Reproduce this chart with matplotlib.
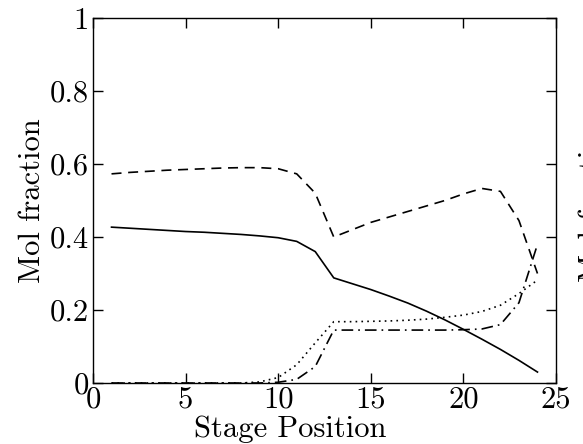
import matplotlib
matplotlib.use("Agg")
import matplotlib.pyplot as plt

plt.rcParams['font.family'] = 'serif'
plt.rcParams['font.serif'] = ['cmr10', 'DejaVu Serif']
plt.rcParams['mathtext.fontset'] = 'cm'
plt.rcParams['axes.formatter.use_mathtext'] = True

stages = list(range(1, 25))
solid = [0.427, 0.424, 0.421, 0.418, 0.415, 0.413, 0.410, 0.407, 0.403, 0.398,
         0.388, 0.360, 0.288, 0.272, 0.256, 0.238, 0.219, 0.197, 0.173, 0.147,
         0.120, 0.092, 0.062, 0.030]
dashed = [0.573, 0.577, 0.580, 0.583, 0.585, 0.587, 0.589, 0.590, 0.590, 0.587,
          0.573, 0.520, 0.400, 0.420, 0.440, 0.455, 0.470, 0.485, 0.500, 0.518,
          0.533, 0.525, 0.445, 0.300]
dotted = [0.0, 0.0, 0.0, 0.0, 0.0, 0.0, 0.0, 0.0, 0.003, 0.015,
          0.050, 0.110, 0.168, 0.168, 0.169, 0.170, 0.172, 0.175, 0.180, 0.186,
          0.196, 0.213, 0.245, 0.282]
dashdot = [0.0, 0.0, 0.0, 0.0, 0.0, 0.0, 0.0, 0.0, 0.0, 0.002,
           0.010, 0.045, 0.145, 0.145, 0.145, 0.145, 0.145, 0.145, 0.145, 0.146,
           0.148, 0.160, 0.220, 0.380]

xticks = [0, 5, 10, 15, 20, 25]
yticks = [0, 0.2, 0.4, 0.6, 0.8, 1.0]
ytick_labels = ['0', '0.2', '0.4', '0.6', '0.8', '1']

fig = plt.figure(figsize=(5.83, 4.44), dpi=100)
ax = fig.add_axes([93/583, 1-383/444, (556-93)/583, (383-18)/444])

lw = 1.2
ax.plot(stages, solid, color='black', lw=lw, linestyle='-')
ax.plot(stages, dashed, color='black', lw=lw, linestyle=(0, (6, 4)))
ax.plot(stages, dotted, color='black', lw=lw, linestyle=(0, (1, 2.5)))
ax.plot(stages, dashdot, color='black', lw=lw, linestyle=(0, (7, 3, 1, 3)))

ax.set_xlim(0, 25)
ax.set_ylim(0, 1)
ax.set_xticks(xticks)
ax.set_xticklabels([str(t) for t in xticks])
ax.set_yticks(yticks)
ax.set_yticklabels(ytick_labels)
ax.tick_params(direction='in', top=True, right=True, length=7, width=1,
               labelsize=22, pad=3)
ax.tick_params(axis='x', pad=2)
for s in ax.spines.values():
    s.set_linewidth(1.0)

ax.set_xlabel('Stage Position', fontsize=22)
ax.set_ylabel('Mol fraction', fontsize=22)
ax.xaxis.set_label_coords((290-93)/463, (383-415)/365)
ax.yaxis.set_label_coords((46-93)/463, 0.5)

# partially visible label of a neighbouring panel
fig.text(592/583, 1-200/444, 'Mol fraction', rotation=90, fontsize=22,
         ha='center', va='center')

fig.savefig('out.png', dpi=100)
